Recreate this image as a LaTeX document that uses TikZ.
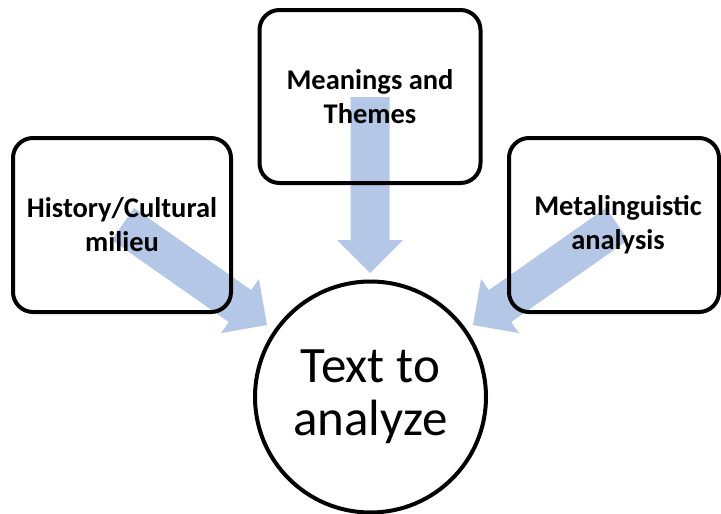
\documentclass[tikz,border=0pt]{standalone}
\usepackage{fontspec}
\setmainfont{Carlito}
\usetikzlibrary{calc,backgrounds}
\definecolor{arrowblue}{RGB}{180,199,231}
\tikzset{
  boxnode/.style={draw=black, line width=4pt, rounded corners=20pt, align=center,
    font=\fontsize{28.5}{34}\selectfont\bfseries, inner sep=0pt},
  circnode/.style={draw=black, line width=4pt, circle, align=center,
    font=\fontsize{51}{53}\selectfont, inner sep=0pt},
  arrowfill/.style={fill=arrowblue}
}
\newcommand\blockarrow[2]{%
  \coordinate (ba) at ($(#2)!33pt!(#1)$);
  \fill[arrowfill] ($(#1)!19.5pt!90:(#2)$) -- ($(ba)!19.5pt!90:(#2)$) -- ($(ba)!33pt!90:(#2)$) -- (#2)
    -- ($(ba)!33pt!-90:(#2)$) -- ($(ba)!19.5pt!-90:(#2)$) -- ($(#1)!19.5pt!-90:(#2)$) -- cycle;}
\begin{document}
\begin{tikzpicture}[x=1pt,y=-1pt]
\useasboundingbox (0,0) rectangle (721,514);
\node[boxnode, minimum width=218pt, minimum height=174pt] (hist) at (122,225) {History/Cultural\\milieu};
\node[boxnode, minimum width=221pt, minimum height=173pt] (mean) at (370,96.5) {Meanings and\\Themes};
\node[boxnode, minimum width=210pt, minimum height=174pt] (meta) at (614,225) {\hspace*{8pt}Metalinguistic\\\hspace*{8pt}analysis};
\node[circnode, minimum size=231pt] (text) at (370.5,397) {Text to\\analyze};
\coordinate (lt) at (122.9,224);
\coordinate (lp) at (267,325);
\coordinate (mt) at (370,97);
\coordinate (mp) at (370,273);
\coordinate (rt) at (617.1,224);
\coordinate (rp) at (473,325);
\begin{scope}[on background layer]
  \fill[white] (0,0) rectangle (721,514);
  \blockarrow{lt}{lp}
  \blockarrow{mt}{mp}
  \blockarrow{rt}{rp}
\end{scope}
\end{tikzpicture}
\end{document}
